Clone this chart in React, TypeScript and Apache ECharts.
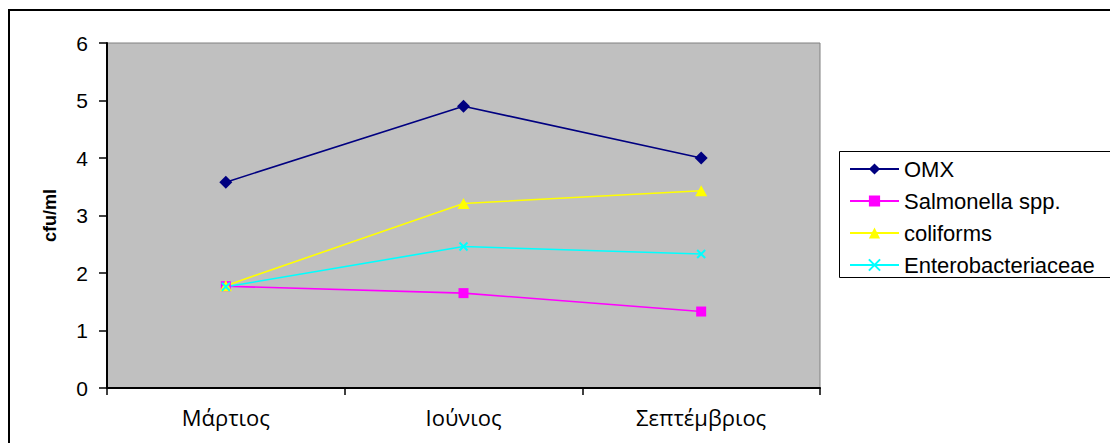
import React, { useEffect, useRef } from "react";
import * as echarts from "echarts";

const categories = ["Μάρτιος", "Ιούνιος", "Σεπτέμβριος"];
const omx = [3.58, 4.9, 4.0];
const salmonella = [1.77, 1.65, 1.33];
const coliforms = [1.78, 3.21, 3.43];
const entero = [1.76, 2.46, 2.33];
const yTicks = { min: 0, max: 6, interval: 1 };

const crossPath = "path://M0,0L10,10M10,0L0,10";

export default function App() {
  const ref = useRef<HTMLDivElement>(null);
  useEffect(() => {
    if (!ref.current) return;
    const chart = echarts.init(ref.current, undefined, { renderer: "svg" });
    const mkSeries = (name: string, data: number[], color: string, symbol: string, size: number | number[], extra: any = {}) => ({
      name,
      type: "line",
      data,
      symbol,
      symbolSize: size,
      showAllSymbol: true,
      lineStyle: { color, width: 1.6 },
      itemStyle: { color, ...extra },
      emphasis: { disabled: true },
      z: 3,
    });
    chart.setOption({
      animation: false,
      backgroundColor: "#ffffff",
      textStyle: { fontFamily: "Liberation Sans, Arial, sans-serif" },
      graphic: [
        {
          type: "rect",
          shape: { x: 9, y: 10, width: 1300, height: 700 },
          style: { fill: "none", stroke: "#000", lineWidth: 2 },
          z: -10,
        },
        {
          type: "rect",
          shape: { x: 839.5, y: 151.5, width: 400, height: 126 },
          style: { fill: "#fff", stroke: "#000", lineWidth: 1 },
          z: 0,
        },
      ],
      grid: {
        left: 107,
        top: 43,
        width: 713,
        height: 345,
        show: true,
        backgroundColor: "#C0C0C0",
        borderColor: "#808080",
        borderWidth: 1,
      },
      legend: {
        orient: "vertical",
        left: 849,
        top: 158,
        itemWidth: 49,
        itemHeight: 14,
        itemGap: 10,
        padding: 0,
        textStyle: { fontSize: 22, color: "#000", fontFamily: "Liberation Sans, Arial, sans-serif" },
        data: ["OMX", "Salmonella spp.", "coliforms", "Enterobacteriaceae"],
        selectedMode: false,
        z: 5,
      },
      xAxis: {
        type: "category",
        data: categories,
        boundaryGap: true,
        axisLine: { show: true, lineStyle: { color: "#000", width: 2 } },
        axisTick: { show: true, length: 7, lineStyle: { color: "#000", width: 1.5 } },
        axisLabel: { fontSize: 22, color: "#000", margin: 18, fontFamily: "Open Sans, sans-serif" },
        splitLine: { show: false },
      },
      yAxis: {
        type: "value",
        min: yTicks.min,
        max: yTicks.max,
        interval: yTicks.interval,
        name: "cfu/ml",
        nameLocation: "middle",
        nameRotate: 90,
        nameGap: 48,
        nameTextStyle: { fontSize: 18, fontWeight: "bold", color: "#000" },
        axisLine: { show: true, lineStyle: { color: "#000", width: 2 } },
        axisTick: { show: true, length: 8, lineStyle: { color: "#000", width: 1.5 } },
        axisLabel: { fontSize: 21, color: "#000", margin: 19 },
        splitLine: { show: false },
      },
      series: [
        mkSeries("OMX", omx, "#000080", "diamond", [13, 13]),
        mkSeries("Salmonella spp.", salmonella, "#FF00FF", "rect", 10),
        mkSeries("coliforms", coliforms, "#FFFF00", "triangle", [12, 11]),
        mkSeries("Enterobacteriaceae", entero, "#00FFFF", crossPath, 8, { borderColor: "#00FFFF", borderWidth: 2 }),
      ],
    });
    return () => chart.dispose();
  }, []);
  return <div ref={ref} style={{ position: "absolute", left: 0, top: 0, width: 1110, height: 443 }} />;
}
